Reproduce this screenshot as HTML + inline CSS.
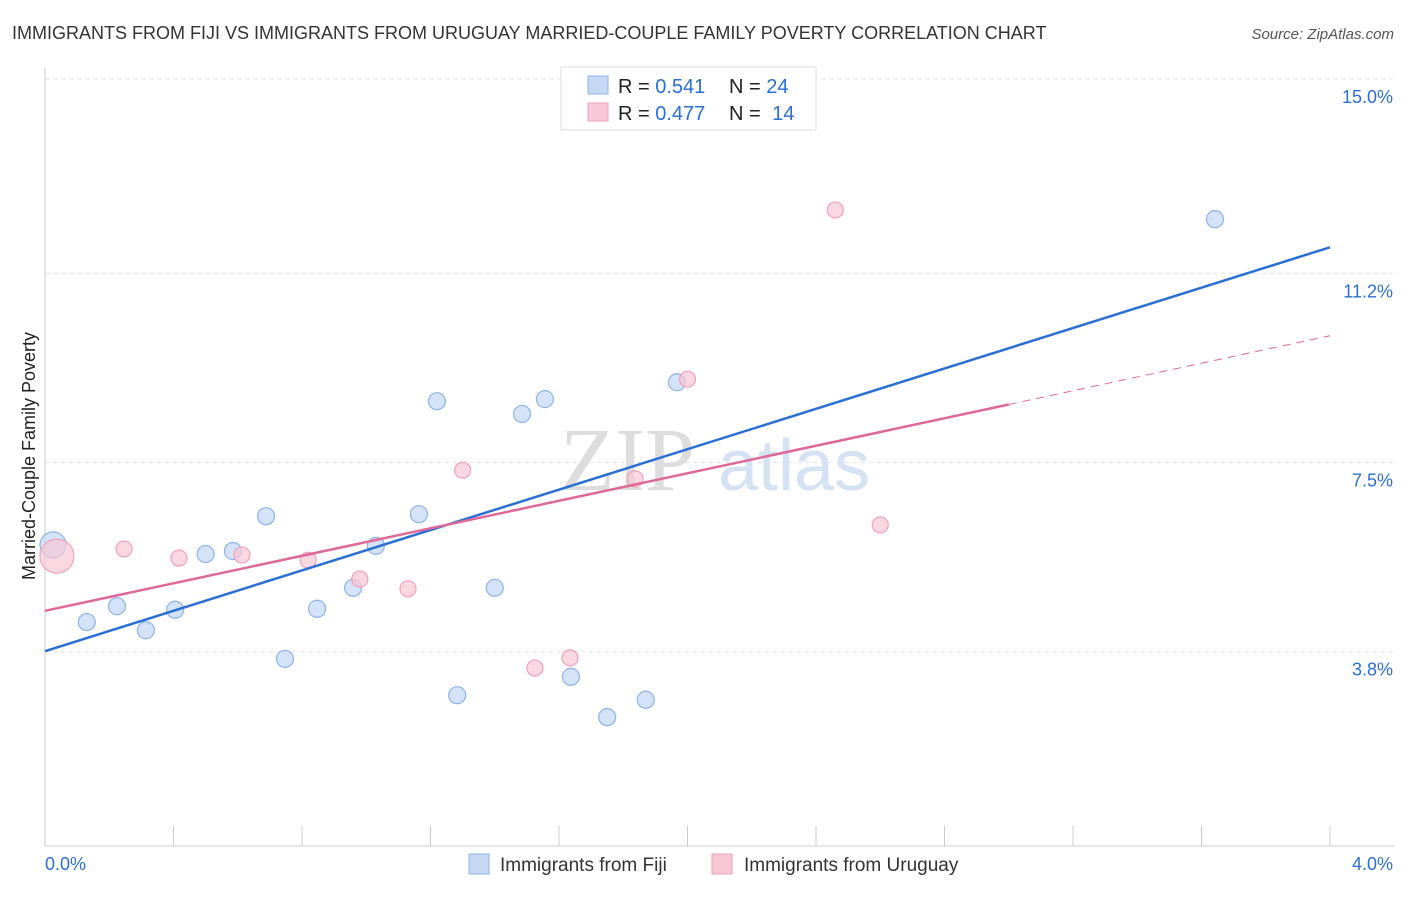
<!DOCTYPE html>
<html><head><meta charset="utf-8"><style>
body{margin:0;background:#fff;font-family:"Liberation Sans",sans-serif}
</style></head><body>
<svg width="1406" height="892" viewBox="0 0 1406 892" xmlns="http://www.w3.org/2000/svg">
<text x="12" y="39" font-size="18" fill="#333">IMMIGRANTS FROM FIJI VS IMMIGRANTS FROM URUGUAY MARRIED-COUPLE FAMILY POVERTY CORRELATION CHART</text>
<text x="1394" y="39" font-size="15" fill="#555" font-style="italic" text-anchor="end">Source: ZipAtlas.com</text>
<g id="grid"></g>
<text x="560" y="490" font-size="90" fill="#ddd" font-family="Liberation Serif">ZIP</text>
<text x="718" y="490" font-size="72" fill="#d4e2f4">atlas</text>
<text transform="translate(35,456) rotate(-90)" font-size="18" fill="#222" text-anchor="middle">Married-Couple Family Poverty</text>
<g id="marks"></g>
<g>
<rect x="561" y="67" width="255" height="63" fill="#fff" stroke="#ddd"/>
<rect x="588" y="76" width="20" height="18" fill="#c5d9f5" stroke="#8fb3e8"/>
<text x="618" y="93" font-size="20" fill="#222">R = <tspan fill="#2a6fd6">0.541</tspan></text>
<text x="729" y="93" font-size="20" fill="#222">N = <tspan fill="#2a6fd6">24</tspan></text>
<rect x="588" y="103" width="20" height="18" fill="#f8c8d6" stroke="#f0a0b8"/>
<text x="618" y="120" font-size="20" fill="#222">R = <tspan fill="#2a6fd6">0.477</tspan></text>
<text x="729" y="120" font-size="20" fill="#222">N = <tspan fill="#2a6fd6" dx="6">14</tspan></text>
</g>
<g>
<rect x="469" y="854" width="20" height="20" fill="#c5d9f5" stroke="#8fb3e8"/>
<text x="500" y="871" font-size="19" fill="#333">Immigrants from Fiji</text>
<rect x="712" y="854" width="20" height="20" fill="#f8c8d6" stroke="#f0a0b8"/>
<text x="744" y="871" font-size="19" fill="#333">Immigrants from Uruguay</text>
</g>
</svg>
<script>
const yTicks=[3.8,7.5,11.2,15.0];
const xTickCount=10;
const fijiX=[0.025,0.13,0.224,0.314,0.405,0.50,0.585,0.688,0.747,0.847,0.959,1.03,1.164,1.22,1.283,1.40,1.485,1.556,1.637,1.75,1.87,1.967,2.154,3.642];
const fijiY=[5.89,4.38,4.69,4.22,4.62,5.71,5.77,6.45,3.66,4.64,5.05,5.87,6.49,8.70,2.95,5.05,8.45,8.74,3.31,2.52,2.86,9.07,14.65,12.26];
const uruX=[0.037,0.246,0.417,0.613,0.819,0.98,1.13,1.30,1.525,1.634,1.837,2.0,2.46,2.60];
const uruY=[5.67,5.81,5.63,5.69,5.59,5.22,5.03,7.35,3.48,3.68,7.18,9.13,12.44,6.28];
const fijiLine=[3.81,11.71];
const uruLine=[4.60,9.98];
const uruSolidEnd=3.0;
const NS="http://www.w3.org/2000/svg";
const X=v=>45+v*321.25, Y=v=>846-v*51.13;
function mk(t,a,p){const e=document.createElementNS(NS,t);for(const k in a)e.setAttribute(k,a[k]);p.appendChild(e);return e;}
const g=document.getElementById('grid'), m=document.getElementById('marks');
yTicks.forEach(v=>{
 const l=mk('line',{x1:45,x2:1394,y1:Y(v),y2:Y(v),stroke:'#e4e4e4','stroke-dasharray':'4,4'},g);
 
 
 const t=mk('text',{x:1393,y:Y(v)+24,'font-size':18,fill:'#2a6fd6','text-anchor':'end'},g);t.textContent=v.toFixed(1)+'%';
 
 
});
const topGrid=mk('line',{x1:45,x2:1394,y1:Y(15),y2:Y(15),stroke:'#e4e4e4','stroke-dasharray':'4,4'},g);


const ax=mk('line',{x1:45,x2:1394,y1:846,y2:846,stroke:'#ccc'},g);


const ay=mk('line',{x1:45,x2:45,y1:68,y2:846,stroke:'#ccc'},g);


for(let i=1;i<=xTickCount;i++){const tk=mk('line',{x1:X(i*0.4),x2:X(i*0.4),y1:826,y2:846,stroke:'#ccc'},g);
 
 }
const x0=mk('text',{x:45,y:870,'font-size':18,fill:'#2a6fd6'},g);x0.textContent='0.0%';


const x1=mk('text',{x:1393,y:870,'font-size':18,fill:'#2a6fd6','text-anchor':'end'},g);x1.textContent='4.0%';


fijiX.forEach((v,i)=>{const c=mk('circle',{cx:X(v),cy:Y(fijiY[i]),r:i==0?13:8.5,fill:'#c5d9f5','fill-opacity':0.75,stroke:'#8fb3e8','stroke-width':1.2},m);
 
 });
uruX.forEach((v,i)=>{const c=mk('circle',{cx:X(v),cy:Y(uruY[i]),r:i==0?17:8,fill:'#f8c8d6','fill-opacity':0.7,stroke:'#f0a0b8','stroke-width':1.2},m);
 
 });
const fl=mk('line',{x1:X(0),y1:Y(fijiLine[0]),x2:X(4),y2:Y(fijiLine[1]),stroke:'#2a6fd6','stroke-width':2.5},m);


const ue=uruLine[0]+(uruLine[1]-uruLine[0])*uruSolidEnd/4;
const ul=mk('line',{x1:X(0),y1:Y(uruLine[0]),x2:X(uruSolidEnd),y2:Y(ue),stroke:'#e06898','stroke-width':2.5},m);


const ud=mk('line',{x1:X(uruSolidEnd),y1:Y(ue),x2:X(4),y2:Y(uruLine[1]),stroke:'#e06898','stroke-width':1,'stroke-dasharray':'8,6'},m);


</script>
</body></html>
